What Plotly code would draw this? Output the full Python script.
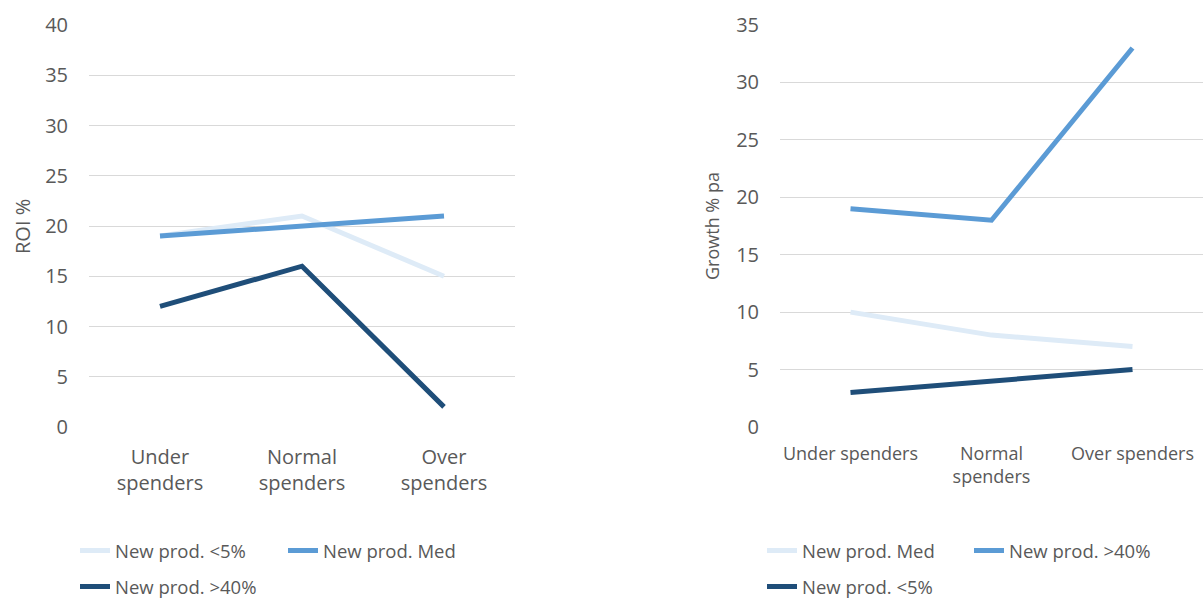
import plotly.graph_objects as go

# Categories and tick text
categories = ["Under spenders", "Normal spenders", "Over spenders"]
left_ticktext = ["Under<br>spenders", "Normal<br>spenders", "Over<br>spenders"]
right_ticktext = ["Under spenders", "Normal<br>spenders", "Over spenders"]

# ROI % by spending group
roi_lt5 = [19, 21, 15]
roi_med = [19, 20, 21]
roi_gt40 = [12, 16, 2]

# Growth % pa by spending group
growth_med = [10, 8, 7]
growth_gt40 = [19, 18, 33]
growth_lt5 = [3, 4, 5]

LIGHT = "#DEEBF7"
MID = "#5B9BD5"
DARK = "#1F4E79"
TEXT = "#595959"
GRID = "#D9D9D9"
FONT = "Open Sans"

fig = go.Figure()


def add_line(x_axis, y_axis, values, name, color, legend):
    fig.add_trace(go.Scatter(
        x=categories, y=values, name=name, mode="lines",
        line=dict(color=color, width=5),
        xaxis=x_axis, yaxis=y_axis, legend=legend,
    ))


add_line("x", "y", roi_lt5, "New prod. <5%", LIGHT, "legend")
add_line("x", "y", roi_med, "New prod. Med", MID, "legend")
add_line("x", "y", roi_gt40, "New prod. >40%", DARK, "legend2")

add_line("x2", "y2", growth_med, "New prod. Med", LIGHT, "legend3")
add_line("x2", "y2", growth_gt40, "New prod. >40%", MID, "legend3")
add_line("x2", "y2", growth_lt5, "New prod. <5%", DARK, "legend4")

W, H = 1203, 606
y_dom = [(H - 427) / H, (H - 25) / H]

xcommon = dict(showgrid=False, zeroline=False, showline=False, ticks="",
               type="category", range=[-0.5, 2.5], tickmode="array",
               tickvals=categories, automargin=False)
ycommon = dict(showgrid=True, gridcolor=GRID, gridwidth=1, zeroline=False,
               showline=False, ticks="", dtick=5, ticklabelstandoff=20,
               automargin=False,
               tickfont=dict(family=FONT, size=20, color=TEXT))


def legend_at(x_px, y_frac, yanchor, entry_px):
    return dict(orientation="h", x=x_px / W, y=y_frac,
                xanchor="left", yanchor=yanchor,
                font=dict(family=FONT, size=18.5, color=TEXT),
                bgcolor="rgba(0,0,0,0)", entrywidth=entry_px,
                entrywidthmode="pixels", tracegroupgap=0)


fig.update_layout(
    width=W, height=H, autosize=False,
    margin=dict(l=0, r=0, t=0, b=0, pad=0),
    paper_bgcolor="white", plot_bgcolor="white",
    showlegend=True,
    xaxis=dict(domain=[89 / W, 515 / W], anchor="y", ticktext=left_ticktext,
               ticklabelstandoff=16,
               tickfont=dict(family=FONT, size=20, color=TEXT), **xcommon),
    yaxis=dict(domain=y_dom, anchor="x", range=[0, 40], **ycommon),
    xaxis2=dict(domain=[780 / W, 1203 / W], anchor="y2", ticktext=right_ticktext,
                ticklabelstandoff=14,
                tickfont=dict(family=FONT, size=18, color=TEXT), **xcommon),
    yaxis2=dict(domain=y_dom, anchor="x2", range=[0, 35], **ycommon),
    legend=legend_at(75, 1 - 551 / H, "middle", 163),
    legend2=legend_at(75, 0, "bottom", 163),
    legend3=legend_at(762, 1 - 551 / H, "middle", 162),
    legend4=legend_at(762, 0, "bottom", 162),
    annotations=[
        dict(text="ROI %", x=22 / W, y=1 - 227 / H, xref="paper", yref="paper",
             textangle=-90, showarrow=False, xanchor="center", yanchor="middle",
             font=dict(family=FONT, size=20, color=TEXT)),
        dict(text="Growth % pa", x=712 / W, y=1 - 226 / H, xref="paper", yref="paper",
             textangle=-90, showarrow=False, xanchor="center", yanchor="middle",
             font=dict(family=FONT, size=18, color=TEXT)),
    ],
)

fig.write_html("out.html")
